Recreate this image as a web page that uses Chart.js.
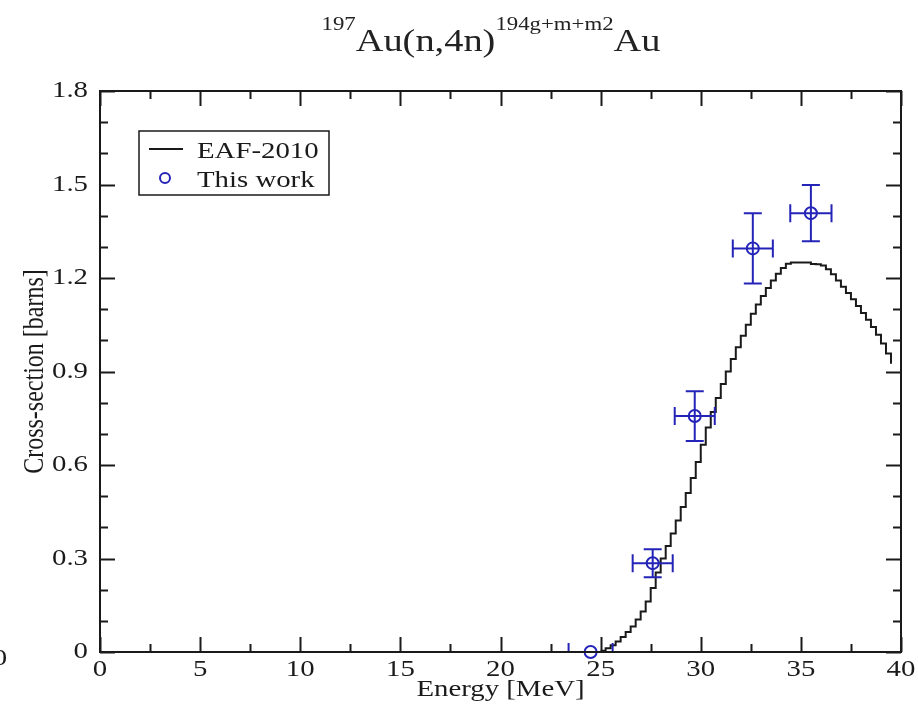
<!DOCTYPE html>
<html>
<head>
<meta charset="utf-8">
<script src="https://cdn.jsdelivr.net/npm/chart.js@4.4.1/dist/chart.umd.min.js"></script>
<style>
  html, body { margin: 0; padding: 0; background: #fff; overflow: hidden; }
  #wrap { position: relative; width: 918px; height: 715px; }
  #chart { position: absolute; left: 0; top: 0; }
  #title {
    position: absolute; left: 32px; top: 24px; width: 918px;
    text-align: center; white-space: nowrap;
    font-family: "Liberation Serif", serif; font-size: 32px; line-height: 32px; color: #222;
    transform: scaleX(1.2); transform-origin: 50% 50%;
  }
  #title .sup { font-size: 19px; position: relative; top: -21px; }
</style>
</head>
<body>
<div id="wrap">
  <canvas id="chart" width="918" height="715"></canvas>
  <div id="title"><span class="sup">197</span>Au(n,4n)<span class="sup">194g+m+m2</span>Au</div>
</div>
<script>
// EAF-2010 evaluation, 0.25 MeV bins (value holds from the energy to the next one)
const eafEnergy = [
    25.0, 25.25, 25.5, 25.75, 26.0, 26.25, 26.5, 26.75, 27.0, 27.25,
    27.5, 27.75, 28.0, 28.25, 28.5, 28.75, 29.0, 29.25, 29.5, 29.75,
    30.0, 30.25, 30.5, 30.75, 31.0, 31.25, 31.5, 31.75, 32.0, 32.25,
    32.5, 32.75, 33.0, 33.25, 33.5, 33.75, 34.0, 34.25, 34.5, 34.75,
    35.0, 35.25, 35.5, 35.75, 36.0, 36.25, 36.5, 36.75, 37.0, 37.25,
    37.5, 37.75, 38.0, 38.25, 38.5, 38.75, 39.0, 39.25, 39.5
];
const eafXs = [
    0.004, 0.012, 0.022, 0.034, 0.048, 0.064, 0.082, 0.104, 0.130, 0.162,
    0.205, 0.255, 0.300, 0.340, 0.380, 0.422, 0.465, 0.510, 0.558, 0.610,
    0.665, 0.720, 0.770, 0.815, 0.860, 0.900, 0.940, 0.978, 1.015, 1.050,
    1.085, 1.115, 1.142, 1.168, 1.192, 1.214, 1.232, 1.246, 1.250, 1.250,
    1.250, 1.250, 1.245, 1.244, 1.240, 1.228, 1.212, 1.192, 1.172, 1.152,
    1.132, 1.110, 1.088, 1.066, 1.043, 1.018, 0.990, 0.958, 0.925
];

// measured points
const workEnergy = [24.5, 27.6, 29.7, 32.6, 35.5];
const workEnergyErr = [1.1, 1.0, 1.0, 1.0, 1.03];
const workXs = [0.0, 0.285, 0.757, 1.295, 1.408];
const workXsErr = [0.0, 0.045, 0.08, 0.113, 0.09];

const xMajorTicks = [0, 5, 10, 15, 20, 25, 30, 35, 40];
const yMajorTicks = [0, 0.3, 0.6, 0.9, 1.2, 1.5, 1.8];

const BLUE = "#2424b8";
const INK = "#1a1a1a";
const SERIF = "'Liberation Serif', 'Times New Roman', serif";
const TEXT_STRETCH = 1.2; // the reference lettering is drawn wide

// widen every label around its anchor; rotated text is widened across its baseline
const canvas = document.getElementById("chart");
const ctx2d = canvas.getContext("2d");
const rawFillText = ctx2d.fillText.bind(ctx2d);
ctx2d.fillText = function (text, x, y, maxWidth) {
    const m = this.getTransform();
    this.save();
    this.translate(x, y);
    if (Math.abs(m.b) > 0.5) this.scale(1, TEXT_STRETCH);
    else this.scale(TEXT_STRETCH, 1);
    if (maxWidth === undefined) rawFillText(text, 0, 0);
    else rawFillText(text, 0, 0, maxWidth);
    this.restore();
};

const plotDecor = {
    id: "plotDecor",
    afterDatasetsDraw(chart) {
        const { ctx, chartArea: a, scales: { x, y } } = chart;

        // error bars, clipped to the frame
        ctx.save();
        ctx.beginPath();
        ctx.rect(a.left, a.top, a.right - a.left, a.bottom - a.top);
        ctx.clip();
        ctx.strokeStyle = BLUE;
        ctx.lineWidth = 2;
        const cap = 9;
        workEnergy.forEach((e, i) => {
            const px = x.getPixelForValue(e);
            const py = y.getPixelForValue(workXs[i]);
            const xl = x.getPixelForValue(e - workEnergyErr[i]);
            const xr = x.getPixelForValue(e + workEnergyErr[i]);
            ctx.beginPath();
            ctx.moveTo(xl, py); ctx.lineTo(xr, py);
            ctx.moveTo(xl, py - cap); ctx.lineTo(xl, py + cap);
            ctx.moveTo(xr, py - cap); ctx.lineTo(xr, py + cap);
            if (workXsErr[i] > 0) {
                const yt = y.getPixelForValue(workXs[i] + workXsErr[i]);
                const yb = y.getPixelForValue(workXs[i] - workXsErr[i]);
                ctx.moveTo(px, yt); ctx.lineTo(px, yb);
                ctx.moveTo(px - cap, yt); ctx.lineTo(px + cap, yt);
                ctx.moveTo(px - cap, yb); ctx.lineTo(px + cap, yb);
            }
            ctx.stroke();
        });
        ctx.restore();

        // frame with inward ticks on all four sides
        ctx.save();
        ctx.strokeStyle = INK;
        ctx.lineWidth = 2;
        ctx.strokeRect(a.left, a.top, a.right - a.left, a.bottom - a.top);
        ctx.beginPath();
        for (let v = 0; v <= 40.001; v += 2.5) {
            const px = Math.round(x.getPixelForValue(v)) + 0.5;
            const len = xMajorTicks.includes(v) ? 15 : 8;
            ctx.moveTo(px, a.bottom); ctx.lineTo(px, a.bottom - len);
            ctx.moveTo(px, a.top); ctx.lineTo(px, a.top + len);
        }
        for (let k = 0; k <= 18; k++) {
            const py = Math.round(y.getPixelForValue(k / 10)) + 0.5;
            const len = k % 3 === 0 ? 15 : 8;
            ctx.moveTo(a.left, py); ctx.lineTo(a.left + len, py);
            ctx.moveTo(a.right, py); ctx.lineTo(a.right - len, py);
        }
        ctx.stroke();
        ctx.restore();

        // legend box
        const ds = chart.data.datasets;
        ctx.save();
        ctx.fillStyle = "#fff";
        ctx.fillRect(139, 131, 190, 64);
        ctx.strokeStyle = INK;
        ctx.lineWidth = 1.5;
        ctx.strokeRect(139, 131, 190, 64);
        ctx.beginPath();
        ctx.lineWidth = 2;
        ctx.moveTo(149, 149); ctx.lineTo(183, 149);
        ctx.stroke();
        ctx.beginPath();
        ctx.strokeStyle = BLUE;
        ctx.arc(165, 178, 5, 0, Math.PI * 2);
        ctx.stroke();
        ctx.fillStyle = INK;
        ctx.font = "24px " + SERIF;
        ctx.textBaseline = "alphabetic";
        ctx.fillText(ds[0].label, 197, 158);
        ctx.fillText(ds[1].label, 197, 187);
        // clipped label from the neighbouring panel at the left edge
        ctx.font = "24px " + SERIF;
        ctx.textAlign = "center";
        ctx.fillText("0", 0, 665);
        ctx.restore();
    }
};

new Chart(canvas, {
    data: {
        datasets: [
            {
                type: "line",
                label: "EAF-2010",
                data: eafEnergy.map((e, i) => ({ x: e, y: eafXs[i] })),
                stepped: true,
                borderColor: INK,
                borderWidth: 2,
                pointRadius: 0,
                fill: false,
            },
            {
                type: "scatter",
                label: "This work",
                data: workEnergy.map((e, i) => ({ x: e, y: workXs[i] })),
                pointStyle: "circle",
                pointRadius: 6,
                pointBorderWidth: 2,
                borderColor: BLUE,
                backgroundColor: "rgba(0,0,0,0)",
                clip: false,
            },
        ],
    },
    options: {
        responsive: false,
        animation: false,
        devicePixelRatio: 1,
        layout: { padding: { top: 91, right: 17, left: 0, bottom: 0 } },
        plugins: {
            legend: { display: false },
            tooltip: { enabled: false },
        },
        scales: {
            x: {
                type: "linear",
                min: 0,
                max: 40,
                afterBuildTicks: (s) => { s.ticks = xMajorTicks.map((v) => ({ value: v })); },
                afterFit: (s) => { s.height = 63; },
                grid: { display: false, drawTicks: false },
                border: { display: false },
                ticks: {
                    padding: 3,
                    color: INK,
                    font: { family: SERIF, size: 24 },
                    callback: (v) => String(v),
                },
                title: {
                    display: true,
                    text: "Energy [MeV]",
                    color: INK,
                    font: { family: SERIF, size: 24 },
                    padding: { top: 0, bottom: 11 },
                },
            },
            y: {
                type: "linear",
                min: 0,
                max: 1.8,
                afterBuildTicks: (s) => { s.ticks = yMajorTicks.map((v) => ({ value: v })); },
                afterFit: (s) => { s.width = 100; },
                grid: { display: false, drawTicks: false },
                border: { display: false },
                ticks: {
                    padding: 12,
                    color: INK,
                    font: { family: SERIF, size: 24 },
                    callback: (v) => (v === 0 ? "0" : v.toFixed(1)),
                },
                title: {
                    display: true,
                    text: "Cross-section [barns]",
                    color: INK,
                    font: { family: SERIF, size: 24 },
                    padding: { top: 21, bottom: 0 },
                },
            },
        },
    },
    plugins: [plotDecor],
});
</script>
</body>
</html>
